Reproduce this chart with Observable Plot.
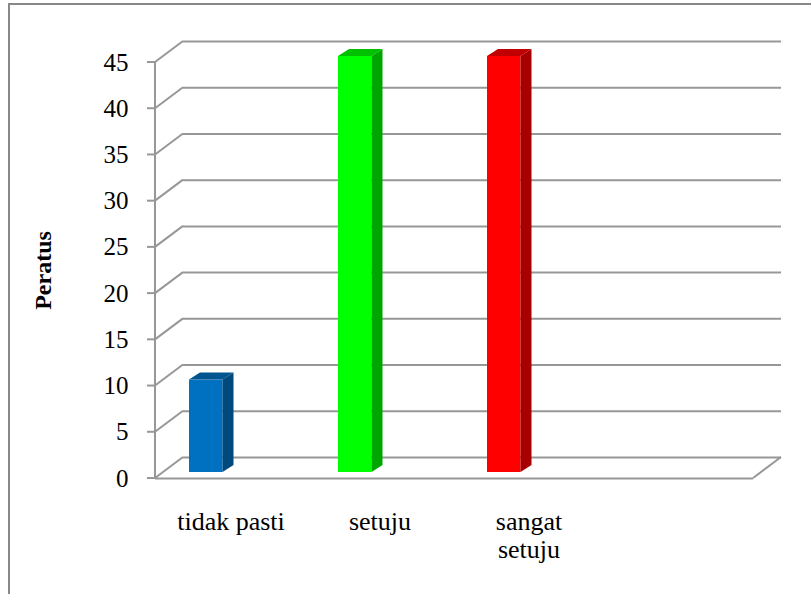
<!DOCTYPE html>
<html><head><meta charset="utf-8">
<script src="https://cdn.jsdelivr.net/npm/d3@7"></script>
<script src="https://cdn.jsdelivr.net/npm/@observablehq/plot@0.6"></script>
<style>
html,body{margin:0;padding:0;background:#fff;}
#wrap{position:relative;width:811px;height:594px;overflow:hidden;background:#fff;}
#chart{position:absolute;left:0;top:0;}
#chart svg, #chart svg text{font-family:"Liberation Serif","Times New Roman",serif !important;}
#frame{position:absolute;left:8px;top:3px;width:820px;height:620px;border-left:2px solid #888;border-top:2px solid #888;box-sizing:border-box;pointer-events:none;}
</style></head><body>
<div id="wrap"><div id="chart"></div><div id="frame"></div></div>
<script>
// ---- data ----
const categories = ["tidak pasti", "setuju", "sangat setuju"];
const values = [10, 45, 45];
const slots = [...categories, ""];           // Excel keeps a 4th empty slot
const yTicks = [0, 5, 10, 15, 20, 25, 30, 35, 40, 45];
const yLabel = "Peratus";
const barColors = ["#0070C0", "#00FF00", "#FF0000"];

const data = categories.map((c, i) => ({category: c, value: values[i]}));

// ---- 3D styling constants ----
const gridColor = "#979797";
const DX = 28, DY = -21;   // wall depth
const BX = 8, BY = -6;     // bar front offset into depth
const SX = 11, SY = -7;    // bar thickness
const insetL = 25, insetR = 90.5;
const serif = "Liberation Serif";

function walls(index, scales, vals, dim) {
  const g = d3.create("svg:g").attr("stroke", gridColor).attr("stroke-width", 2).attr("fill", "none");
  const x0 = dim.marginLeft, x1 = dim.width - dim.marginRight;
  for (const t of yTicks) {
    const y = scales.y(t);
    g.append("line").attr("x1", x0).attr("y1", y).attr("x2", x0 + DX).attr("y2", y + DY);
    g.append("line").attr("x1", x0 - 8).attr("y1", y).attr("x2", x0).attr("y2", y);
  }
  const y0 = scales.y(0);
  g.append("line").attr("x1", x1).attr("y1", y0).attr("x2", x1 + DX).attr("y2", y0 + DY);
  g.append("line").attr("x1", x0).attr("y1", scales.y(yTicks[0])).attr("x2", x0).attr("y2", scales.y(yTicks[yTicks.length - 1]));
  return g.node();
}

function barFaces(index, scales) {
  const g = d3.create("svg:g");
  const bw = scales.x.bandwidth();
  categories.forEach((c, i) => {
    const xa = scales.x(c) + insetL + BX;
    const xb = scales.x(c) + bw - insetR + BX;
    const y0 = scales.y(0) + BY;
    const yv = scales.y(values[i]) + BY;
    const col = scales.color(c);
    const side = [[xb, y0], [xb, yv], [xb + SX, yv + SY], [xb + SX, y0 + SY]];
    const top = [[xa, yv], [xb, yv], [xb + SX, yv + SY], [xa + SX, yv + SY]];
    g.append("polygon").attr("points", side.map(p => p.join(",")).join(" "))
      .attr("fill", d3.color(col).darker(1.2).formatHex());
    g.append("polygon").attr("points", top.map(p => p.join(",")).join(" "))
      .attr("fill", d3.color(col).darker(0.8).formatHex());
  });
  return g.node();
}

const chart = Plot.plot({
  width: 811,
  height: 594,
  marginLeft: 155,
  marginRight: 58,
  marginTop: 62,
  marginBottom: 116,
  style: {fontFamily: serif, background: "transparent", color: "black"},
  x: {type: "band", domain: slots, padding: 0, axis: null},
  y: {domain: [0, 45], axis: null},
  color: {domain: categories, range: barColors},
  marks: [
    Plot.ruleY(yTicks, {dx: DX, dy: DY, stroke: gridColor, strokeWidth: 2}),
    Plot.ruleY([0], {stroke: gridColor, strokeWidth: 2}),
    walls,
    Plot.axisY(yTicks, {tickSize: 0, tickPadding: 27, fontSize: 25, fontFamily: serif, fill: "black", label: null}),
    Plot.barY(data, {x: "category", y: "value", fill: "category", insetLeft: insetL, insetRight: insetR, dx: BX, dy: BY}),
    barFaces,
    Plot.text(data, {x: "category", text: "category", frameAnchor: "bottom", lineAnchor: "top", dy: 31, lineWidth: 5.4, lineHeight: 1.1, fontSize: 26, fontFamily: serif, fill: "black"}),
    Plot.text([yLabel], {text: d => d, frameAnchor: "left", textAnchor: "middle", dx: -112, rotate: -90, fontSize: 24, fontFamily: serif, fontWeight: "bold", fill: "black"})
  ]
});
document.getElementById("chart").appendChild(chart);
</script>
</body></html>
